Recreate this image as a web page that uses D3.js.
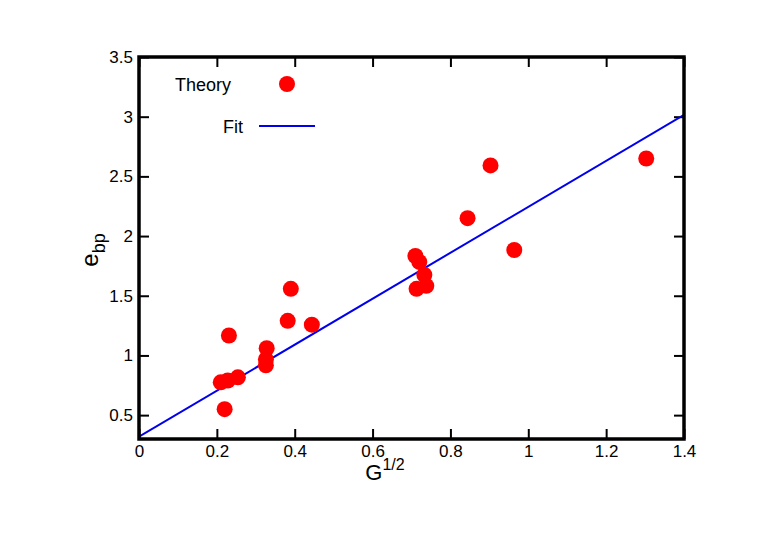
<!DOCTYPE html>
<html><head><meta charset="utf-8">
<script src="https://cdn.jsdelivr.net/npm/d3@7"></script>
<style>body{margin:0;background:#fff}</style>
</head><body>
<div id="chart"></div>
<script>
// data
var theoryX = [0.21, 0.228, 0.254, 0.231, 0.22, 0.328, 0.326, 0.326, 0.382, 0.39, 0.444, 0.71, 0.72, 0.713, 0.733, 0.738, 0.844, 0.903, 0.964, 1.303];
var theoryY = [0.775, 0.79, 0.817, 1.167, 0.55, 1.06, 0.967, 0.917, 1.29, 1.558, 1.258, 1.833, 1.783, 1.558, 1.675, 1.583, 2.15, 2.592, 1.883, 2.65];
var fitX = [0, 1.4];
var fitY = [0.32, 3.015];
var xTicks = [0, 0.2, 0.4, 0.6, 0.8, 1, 1.2, 1.4];
var yTicks = [0.5, 1, 1.5, 2, 2.5, 3, 3.5];

var svgWidth = 763, svgHeight = 545;
var margin = {top: 57, right: 79, bottom: 106, left: 139};
var width = svgWidth - margin.left - margin.right;
var height = svgHeight - margin.top - margin.bottom;

var svg = d3.select("#chart").append("svg")
    .attr("width", svgWidth).attr("height", svgHeight)
    .style("font-family", "'Liberation Sans', Arial, sans-serif");

var g = svg.append("g").attr("transform", `translate(${margin.left}, ${margin.top})`);

var x = d3.scaleLinear().domain([0, 1.4]).range([0, width]);
var y = d3.scaleLinear().domain([0.3, 3.5]).range([height, 0]);

// clip for the fit line
svg.append("clipPath").attr("id", "clip").append("rect").attr("width", width).attr("height", height);

// ticks pointing inward, mirrored
var tk = 10;
g.append("g").attr("transform", `translate(0, ${height})`)
    .call(d3.axisBottom(x).tickValues(xTicks).tickSize(-tk).tickPadding(6).tickFormat(d3.format("")))
    .call(a => a.select(".domain").remove());
g.append("g")
    .call(d3.axisTop(x).tickValues(xTicks).tickSize(-tk).tickFormat(""))
    .call(a => a.select(".domain").remove());
g.append("g")
    .call(d3.axisLeft(y).tickValues(yTicks).tickSize(-tk).tickPadding(6).tickFormat(d3.format("")))
    .call(a => a.select(".domain").remove());
g.append("g").attr("transform", `translate(${width}, 0)`)
    .call(d3.axisRight(y).tickValues(yTicks).tickSize(-tk).tickFormat(""))
    .call(a => a.select(".domain").remove());
g.selectAll(".tick line").attr("stroke", "#000").attr("stroke-width", 2);
g.selectAll(".tick text").attr("font-size", "17px").attr("fill", "#000");

// fit line
g.append("path")
    .datum(fitX.map((d, i) => [d, fitY[i]]))
    .attr("clip-path", "url(#clip)")
    .attr("fill", "none").attr("stroke", "#0000ee").attr("stroke-width", 2)
    .attr("d", d3.line().x(d => x(d[0])).y(d => y(d[1])));

// theory points
g.selectAll("circle.pt")
    .data(theoryX.map((d, i) => [d, theoryY[i]]))
    .enter().append("circle")
    .attr("class", "pt")
    .attr("cx", d => x(d[0])).attr("cy", d => y(d[1]))
    .attr("r", 8).attr("fill", "#ff0000");

// frame
g.append("rect").attr("width", width).attr("height", height)
    .attr("fill", "none").attr("stroke", "#000").attr("stroke-width", 3.5);

// legend
g.append("text").attr("x", 36).attr("y", 34).attr("font-size", "18px").text("Theory");
g.append("circle").attr("cx", 148).attr("cy", 27).attr("r", 8).attr("fill", "#ff0000");
g.append("text").attr("x", 84).attr("y", 76).attr("font-size", "18px").text("Fit");
g.append("line").attr("x1", 120).attr("x2", 176).attr("y1", 69).attr("y2", 69)
    .attr("stroke", "#0000ee").attr("stroke-width", 2);

// axis labels
var xl = svg.append("text").attr("x", 385).attr("y", 480).attr("font-size", "22px").attr("text-anchor", "middle");
xl.append("tspan").text("G");
xl.append("tspan").attr("dy", -10).attr("font-size", "16px").text("1/2");

var yl = svg.append("text").attr("transform", "translate(98, 250) rotate(-90)")
    .attr("font-size", "24px").attr("text-anchor", "middle");
yl.append("tspan").text("e");
yl.append("tspan").attr("dy", 7).attr("font-size", "18px").text("bp");
</script>
</body></html>
